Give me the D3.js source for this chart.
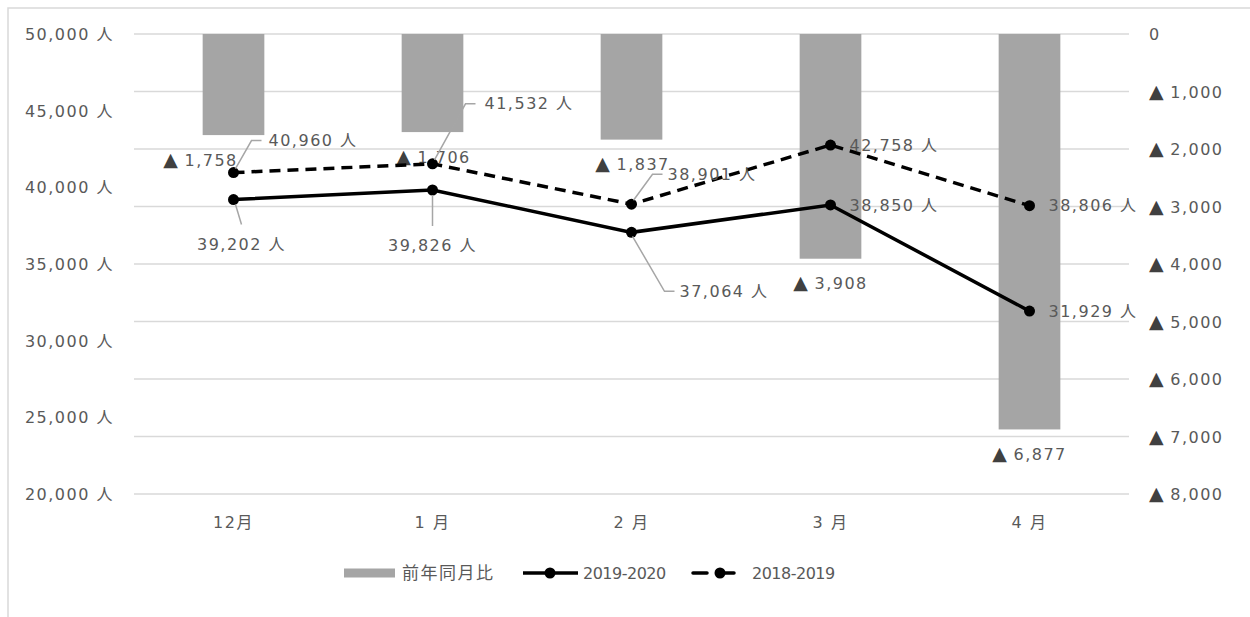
<!DOCTYPE html>
<html><head><meta charset="utf-8">
<script src="https://cdn.jsdelivr.net/npm/d3@7"></script>
<style>
body{margin:0;background:#fff}
text{font-family:"DejaVu Sans","Noto Sans CJK JP",sans-serif;font-size:16px;fill:#595959;letter-spacing:1.5px}
.tri{font-size:19px;fill:#404040;letter-spacing:0}
.lgnum{font-size:16px;letter-spacing:-0.5px}
.lgcjk{font-size:17px;letter-spacing:1.5px}
</style>
</head><body>
<svg id="c" width="1250" height="617"></svg>
<script>
// ---- data ----
const categories = ["12月", "1 月", "2 月", "3 月", "4 月"];
const yoyDecrease = [1758, 1706, 1837, 3908, 6877];        // 前年同月比 (▲ = decrease)
const visitors2019_2020 = [39202, 39826, 37064, 38850, 31929];
const visitors2018_2019 = [40960, 41532, 38901, 42758, 38806];
const leftTicks = [20000, 25000, 30000, 35000, 40000, 45000, 50000];
const rightTicks = [0, 1000, 2000, 3000, 4000, 5000, 6000, 7000, 8000];
const seriesNames = ["前年同月比", "2019-2020", "2018-2019"];

// ---- layout ----
const svg = d3.select("#c");
const W = 1250, H = 617;
const plot = {left: 134, right: 1129, top: 34, bottom: 494};
const x = d3.scaleBand().domain(categories).range([plot.left, plot.right]);
const yL = d3.scaleLinear().domain([20000, 50000]).range([plot.bottom, plot.top]);
const yR = d3.scaleLinear().domain([0, 8000]).range([plot.top, plot.bottom]);
const fmt = d3.format(",");
const cx = c => x(c) + x.bandwidth() / 2;

// chart border
svg.append("path").attr("d", `M8,${H} L8,8 L${W},8`).attr("fill", "none").attr("stroke", "#d9d9d9").attr("stroke-width", 1.5);

// gridlines (right axis)
svg.append("g").selectAll("line").data(rightTicks).join("line")
  .attr("x1", plot.left).attr("x2", plot.right)
  .attr("y1", d => yR(d)).attr("y2", d => yR(d))
  .attr("stroke", "#d9d9d9").attr("stroke-width", 1.5);

// left axis
const gL = svg.append("g").attr("transform", `translate(${plot.left - 20},0)`)
  .call(d3.axisLeft(yL).tickValues(leftTicks).tickSize(0).tickPadding(0).tickFormat(d => fmt(d) + " 人"));
gL.select(".domain").remove();
gL.selectAll("text").attr("dy", "0.35em").style("font-family", null).style("font-size", null).attr("fill", "#595959");

// right axis
const gR = svg.append("g").attr("transform", `translate(${plot.right + 20},0)`)
  .call(d3.axisRight(yR).tickValues(rightTicks).tickSize(0).tickPadding(0).tickFormat(""));
gR.select(".domain").remove();
gR.selectAll(".tick").each(function(d) {
  const t = d3.select(this).select("text").text(null).attr("dy", "0.35em").attr("x", 0)
    .style("font-family", null).style("font-size", null);
  if (d === 0) { t.text("0"); }
  else {
    t.append("tspan").attr("class", "tri").text("▲");
    t.append("tspan").text(" " + fmt(d));
  }
});

// x axis labels
const gX = svg.append("g").attr("transform", `translate(0,${plot.bottom + 20})`)
  .call(d3.axisBottom(x).tickSize(0).tickPadding(0));
gX.select(".domain").remove();
gX.selectAll("text").attr("dy", "0.9em").style("font-family", null).style("font-size", null).attr("fill", "#595959");

// bars (hang from 0 at top on right axis)
const barW = x.bandwidth() * 0.31;
svg.append("g").selectAll("rect").data(yoyDecrease).join("rect")
  .attr("x", (d, i) => cx(categories[i]) - barW / 2)
  .attr("y", yR(0))
  .attr("width", barW)
  .attr("height", d => yR(d) - yR(0))
  .attr("fill", "#a5a5a5");

// bar labels
const barLabelDx = [-33, 1, 1, 0, 0];
svg.append("g").selectAll("text").data(yoyDecrease).join("text")
  .attr("x", (d, i) => cx(categories[i]) + barLabelDx[i])
  .attr("y", d => yR(d) + 25)
  .attr("dy", "0.35em").attr("text-anchor", "middle")
  .each(function(d) {
    const t = d3.select(this);
    t.append("tspan").attr("class", "tri").text("▲");
    t.append("tspan").text(" " + fmt(d));
  });

// lines
const line = d3.line().x((d, i) => cx(categories[i])).y(d => yL(d));
svg.append("path").datum(visitors2018_2019).attr("d", line)
  .attr("fill", "none").attr("stroke", "#000").attr("stroke-width", 3.5)
  .attr("stroke-dasharray", "11,7");
svg.append("path").datum(visitors2019_2020).attr("d", line)
  .attr("fill", "none").attr("stroke", "#000").attr("stroke-width", 3.5);

[visitors2018_2019, visitors2019_2020].forEach(s => {
  svg.append("g").selectAll("circle").data(s).join("circle")
    .attr("cx", (d, i) => cx(categories[i])).attr("cy", d => yL(d)).attr("r", 5.5).attr("fill", "#000");
});

// line labels: [label dx, label dy, anchor, leader points (relative) or null]
const solidLabelPos = [
  [8, 45, "middle", [[2, 5], [8, 25]]],
  [0, 55, "middle", [[0, 5], [0, 36]]],
  [48, 59, "start", [[1, 4], [33, 59], [43, 59]]],
  [19, 0, "start", null],
  [19, 0, "start", null]
];
const dashLabelPos = [
  [35, -32, "start", [[2, -4], [18, -32], [28, -32]]],
  [52, -60, "start", [[2, -4], [33, -60], [43, -60]]],
  [36, -30, "start", [[2, -4], [21, -30], [31, -30]]],
  [19, 0, "start", null],
  [19, 0, "start", null]
];
function drawLabels(series, pos) {
  const g = svg.append("g");
  series.forEach((v, i) => {
    const px = cx(categories[i]), py = yL(v);
    const [dx, dy, anchor, leader] = pos[i];
    if (leader) {
      g.append("path").attr("d", d3.line()(leader.map(p => [px + p[0], py + p[1]])))
        .attr("fill", "none").attr("stroke", "#a6a6a6").attr("stroke-width", 1.5);
    }
    g.append("text").attr("x", px + dx).attr("y", py + dy).attr("dy", "0.35em")
      .attr("text-anchor", anchor).text(fmt(v) + " 人");
  });
}
drawLabels(visitors2019_2020, solidLabelPos);
drawLabels(visitors2018_2019, dashLabelPos);

// legend
const lg = svg.append("g").attr("transform", "translate(0,573)");
lg.append("rect").attr("x", 344).attr("y", -4.5).attr("width", 51).attr("height", 9).attr("fill", "#a5a5a5");
lg.append("text").attr("class", "lgcjk").attr("x", 402).attr("dy", "0.35em").text(seriesNames[0]);
lg.append("line").attr("x1", 523).attr("x2", 578).attr("stroke", "#000").attr("stroke-width", 3.5);
lg.append("circle").attr("cx", 550).attr("r", 5.5).attr("fill", "#000");
lg.append("text").attr("class", "lgnum").attr("x", 583).attr("dy", "0.35em").text(seriesNames[1]);
lg.append("line").attr("x1", 693).attr("x2", 747).attr("stroke", "#000").attr("stroke-width", 3.5)
  .attr("stroke-dasharray", "14,13").attr("stroke-linecap", "round");
lg.append("circle").attr("cx", 720).attr("r", 5.5).attr("fill", "#000");
lg.append("text").attr("class", "lgnum").attr("x", 752).attr("dy", "0.35em").text(seriesNames[2]);
</script>
</body></html>
